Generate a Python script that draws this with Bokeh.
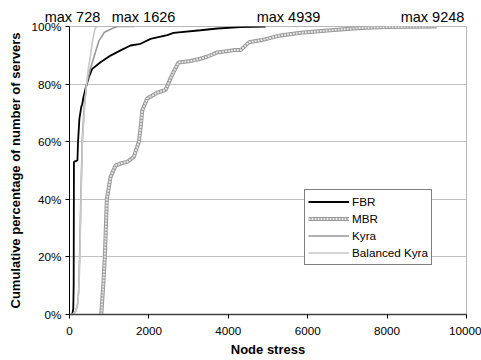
from bokeh.plotting import figure
from bokeh.models import (Legend, LegendItem, LinearAxis, FixedTicker,
                          PrintfTickFormatter, Range1d)
from bokeh.embed import file_html
from bokeh.resources import INLINE

# ---- data ----
fbr_x = [70, 95, 105, 112, 200, 215, 250, 295, 320, 345, 403, 487, 572, 781, 1033, 1285,
         1537, 1789, 2041, 2293, 2465, 2620, 3300, 3725, 4300, 4939]
fbr_y = [0, 2, 10, 53, 53.5, 60, 68, 72, 73, 75, 78.4, 82.4, 85.3, 87.6, 89.9, 91.7,
         93.4, 94, 95.7, 96.5, 97, 97.8, 98.7, 99.3, 99.8, 100]

mbr_x = [800, 850, 890, 915, 940, 1033, 1160, 1300, 1453, 1621, 1700, 1747, 1800, 1831,
         1957, 2209, 2419, 2545, 2650, 2747, 3049, 3301, 3470, 3722, 4134, 4309, 4518,
         4813, 5317, 5821, 6494, 7333, 8000, 9248]
mbr_y = [0, 10, 20, 30, 40, 47.7, 51.7, 52.5, 53, 54.7, 58, 60, 66, 70.8,
         75, 77, 78, 82, 85, 87.5, 88, 88.8, 89.5, 91, 91.8, 91.8, 94.5,
         95.2, 96.9, 97.8, 98.6, 99.5, 99.8, 100]

kyra_x = [60, 150, 200, 230, 255, 285, 320, 370, 430, 520, 630, 740, 880, 1100, 1220, 1626]
kyra_y = [0, 1, 3, 8, 20, 40, 60, 72, 80, 85, 90, 95, 98, 99.5, 100, 100]

bkyra_x = [80, 150, 210, 240, 260, 290, 325, 380, 430, 480, 530, 580, 640, 680, 728]
bkyra_y = [0, 1, 4, 10, 20, 40, 60, 72, 80, 86, 90, 95, 99, 100, 100]

max_labels = ["max 728", "max 1626", "max 4939", "max 9248"]
max_label_x = [76, 1864, 5516, 9144]

x_ticks = [0, 2000, 4000, 6000, 8000, 10000]
y_ticks = [0, 20, 40, 60, 80, 100]

FONT = "Liberation Sans"

p = figure(width=481, height=360, x_range=Range1d(0, 10000), y_range=Range1d(0, 100),
           output_backend="svg", toolbar_location=None,
           min_border_left=69, min_border_right=15, min_border_top=26, min_border_bottom=46)

p.background_fill_color = "white"
p.outline_line_color = "#b8b8b8"
p.xgrid.visible = False
p.ygrid.grid_line_color = "#c0c0c0"
p.ygrid.ticker = FixedTicker(ticks=y_ticks)

p.xaxis.ticker = FixedTicker(ticks=x_ticks)
p.yaxis.ticker = FixedTicker(ticks=y_ticks)
p.yaxis.formatter = PrintfTickFormatter(format="%d%%")
for ax in (p.xaxis, p.yaxis):
    ax.minor_tick_line_color = None
    ax.major_tick_in = 0
    ax.major_tick_out = 4
    ax.major_label_text_font = FONT
    ax.major_label_text_font_size = "11.7px"
    ax.major_label_text_color = "black"
    ax.axis_label_text_font = FONT
    ax.axis_label_text_font_style = "bold"
    ax.axis_label_text_font_size = "13px"
    ax.axis_label_text_color = "black"
p.xaxis.axis_line_color = "#404040"
p.xaxis.axis_line_width = 1.5
p.yaxis.axis_line_color = "black"
p.xaxis.major_label_standoff = 8
p.yaxis.major_label_standoff = 4
p.xaxis.axis_label = "Node stress"
p.yaxis.axis_label = "Cumulative percentage of number of servers"
p.xaxis.axis_label_standoff = 4
p.yaxis.axis_label_standoff = 6

# top "max" annotations as an extra axis above the frame
top_axis = LinearAxis(ticker=FixedTicker(ticks=max_label_x),
                      major_label_overrides={k: t for k, t in zip(max_label_x, max_labels)})
top_axis.axis_line_color = None
top_axis.major_tick_line_color = None
top_axis.minor_tick_line_color = None
top_axis.major_tick_out = 0
top_axis.major_tick_in = 0
top_axis.major_label_standoff = 2
top_axis.major_label_text_font = FONT
top_axis.major_label_text_font_size = "14.5px"
top_axis.major_label_text_color = "black"
p.add_layout(top_axis, "above")

r_fbr = p.line(fbr_x, fbr_y, line_color="black", line_width=1.8)
r_mbr1 = p.line(mbr_x, mbr_y, line_color="#9a9a9a", line_width=4)
r_mbr2 = p.line(mbr_x, mbr_y, line_color="#e4e4e4", line_width=2, line_dash="2 1")
r_kyra = p.line(kyra_x, kyra_y, line_color="#999999", line_width=1.6)
r_bkyra = p.line(bkyra_x, bkyra_y, line_color="#c8c8c8", line_width=1.6)

legend = Legend(items=[
    LegendItem(label="FBR", renderers=[r_fbr]),
    LegendItem(label="MBR", renderers=[r_mbr1, r_mbr2]),
    LegendItem(label="Kyra", renderers=[r_kyra]),
    LegendItem(label="Balanced Kyra", renderers=[r_bkyra]),
], location=(235, 49))
legend.border_line_color = "black"
legend.border_line_width = 1
legend.background_fill_alpha = 1
legend.padding = 3
legend.margin = 0
legend.spacing = 0
legend.label_height = 17
legend.glyph_height = 17
legend.glyph_width = 41
legend.label_standoff = 3
legend.label_text_font = FONT
legend.label_text_font_size = "11.7px"
legend.label_text_color = "black"
p.add_layout(legend)

open("out.html", "w").write(file_html(p, INLINE))
